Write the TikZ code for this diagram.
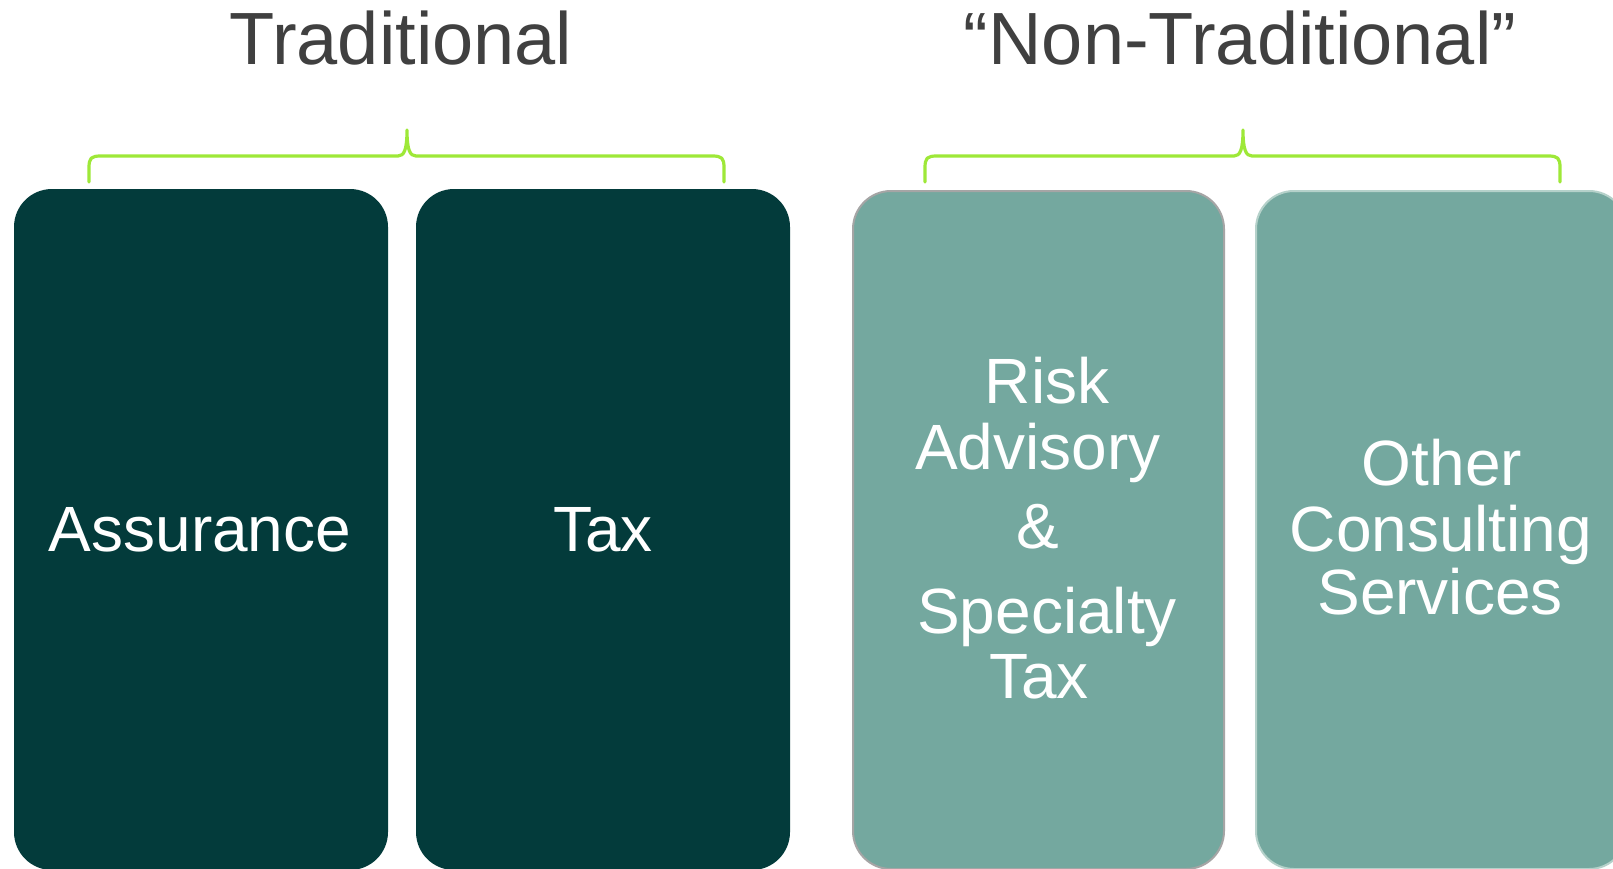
\documentclass[tikz,border=0pt]{standalone}
\usepackage{fontspec}
\setmainfont{Liberation Sans}
\definecolor{darkteal}{HTML}{033B3B}
\definecolor{lightteal}{HTML}{74A89F}
\definecolor{bracegreen}{HTML}{9EE838}
\definecolor{titlegrey}{HTML}{404040}
\definecolor{borderA}{HTML}{A5A5A5}
\definecolor{borderB}{HTML}{B5D1CA}
\begin{document}
\begin{tikzpicture}[x=1pt,y=-1pt,
  dbox/.style={rectangle, rounded corners=38pt, fill=darkteal, minimum width=374pt, minimum height=681pt, inner sep=0pt},
  lbox/.style={rectangle, rounded corners=38pt, fill=lightteal, line width=2pt, minimum width=371pt, minimum height=678pt, inner sep=0pt},
  boxtext/.style={text=white, font=\fontsize{64}{70}\selectfont, anchor=base, inner sep=0pt},
  titletext/.style={text=titlegrey, font=\fontsize{74}{80}\selectfont, anchor=base, inner sep=0pt},
  bracepath/.style={draw=bracegreen, line width=3.2pt, line cap=round, line join=round}]
\useasboundingbox (0,0) rectangle (1613,868);
\clip (0,0) rectangle (1613,868);
\fill[white] (0,0) rectangle (1613,868);

% titles
\node[titletext] (t1) at (401,64) {Traditional};
\node[titletext] (t2) at (1240,64) {“Non-Traditional”};

% braces
\draw[bracepath] (89,182) -- (89,168) .. controls (89,158) and (91,156) .. (101,156)
  -- (398,156) .. controls (404,156) and (407,150) .. (407,130)
  .. controls (407,150) and (410,156) .. (416,156) -- (712,156)
  .. controls (722,156) and (724,158) .. (724,168) -- (724,182);
\draw[bracepath] (925,182) -- (925,168) .. controls (925,158) and (927,156) .. (937,156)
  -- (1234,156) .. controls (1240,156) and (1243,150) .. (1243,130)
  .. controls (1243,150) and (1246,156) .. (1252,156) -- (1548,156)
  .. controls (1558,156) and (1560,158) .. (1560,168) -- (1560,182);

% boxes
\node[dbox] (b1) at (201,529.5) {};
\node[dbox] (b2) at (603,529.5) {};
\node[lbox, draw=borderA] (b3) at (1038.5,530) {};
\node[lbox, draw=borderB] (b4) at (1441.5,530) {};

% box texts
\node[boxtext] (a1) at (200,551) {Assurance};
\node[boxtext] (a2) at (603,551) {Tax};

\node[boxtext] (r1) at (1047,403) {Risk};
\node[boxtext] (r2) at (1038,469) {Advisory};
\node[boxtext] (r3) at (1038,548) {\&};
\node[boxtext] (r4) at (1047,633) {Specialty};
\node[boxtext] (r5) at (1039,698) {Tax};

\node[boxtext] (o1) at (1442,485) {Other};
\node[boxtext] (o2) at (1441,551) {Consulting};
\node[boxtext] (o3) at (1440,614) {Services};
\end{tikzpicture}
\end{document}
